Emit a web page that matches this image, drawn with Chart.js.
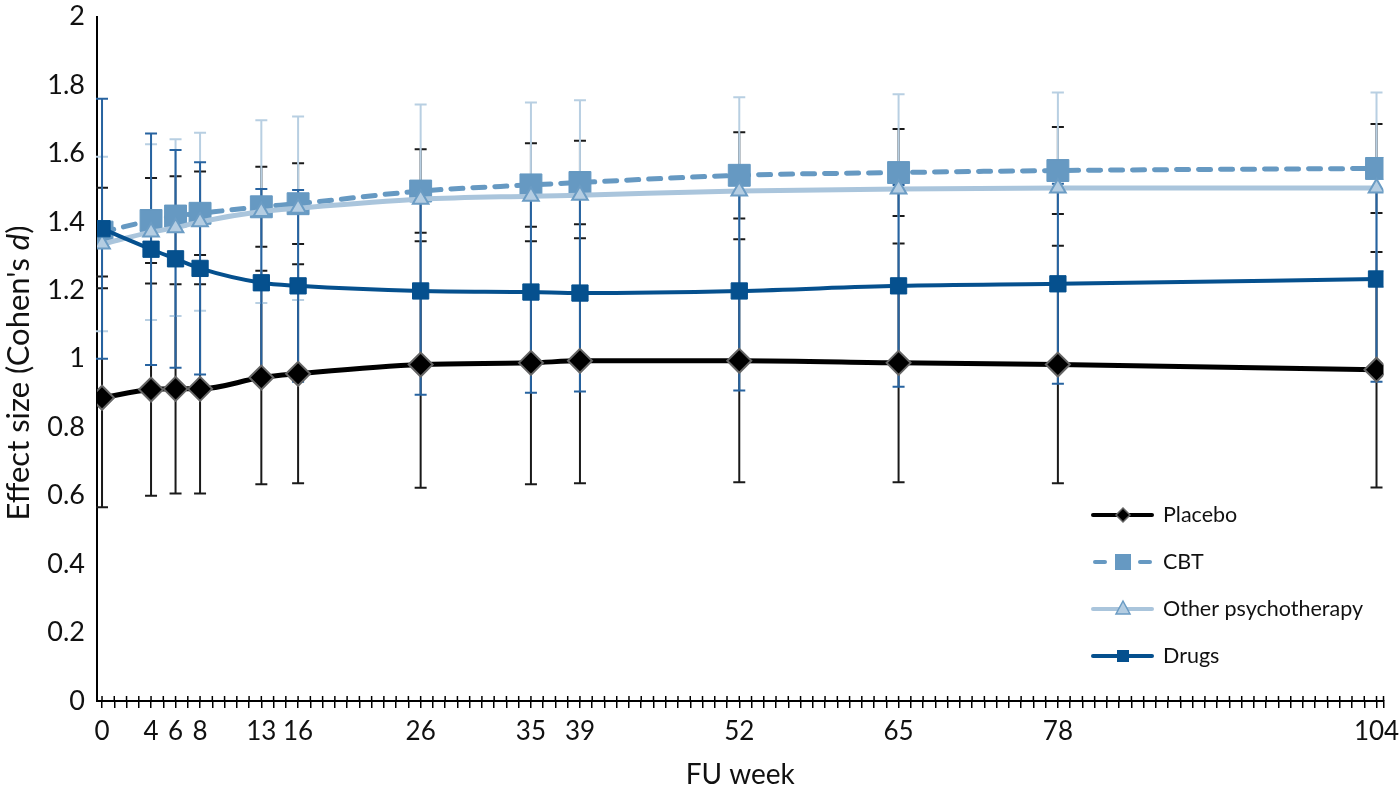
<!DOCTYPE html>
<html>
<head>
<meta charset="utf-8">
<script src="https://cdn.jsdelivr.net/npm/chart.js@4.4.1/dist/chart.umd.min.js"></script>
<style>
html, body { margin: 0; padding: 0; background: #fff; }
#wrap { width: 1400px; height: 795px; position: relative; }
</style>
</head>
<body>
<div id="wrap"><canvas id="myChart"></canvas></div>
<script>
// follow-up weeks and labelled ticks
var weeks = [0, 4, 6, 8, 13, 16, 26, 35, 39, 52, 65, 78, 104];
var tickLabels = [0, 4, 6, 8, 13, 16, 26, 35, 39, 52, 65, 78, 104];

// effect sizes and error bar half-widths
var placebo    = [0.886, 0.91, 0.912, 0.912, 0.945, 0.956, 0.983, 0.988, 0.994, 0.994, 0.988, 0.983, 0.968];
var placeboErr = [0.32, 0.31, 0.306, 0.306, 0.312, 0.32, 0.36, 0.355, 0.358, 0.355, 0.349, 0.347, 0.344];
var cbt        = [1.37, 1.404, 1.417, 1.425, 1.444, 1.453, 1.49, 1.508, 1.515, 1.536, 1.544, 1.55, 1.556];
var cbtErr     = [0.13, 0.124, 0.116, 0.122, 0.117, 0.118, 0.122, 0.122, 0.122, 0.126, 0.127, 0.127, 0.13];
var other      = [1.335, 1.37, 1.383, 1.40, 1.43, 1.44, 1.466, 1.475, 1.478, 1.49, 1.496, 1.499, 1.499];
var otherErr   = [0.255, 0.257, 0.258, 0.26, 0.267, 0.268, 0.277, 0.274, 0.277, 0.274, 0.277, 0.279, 0.279];
var drugs      = [1.38, 1.32, 1.292, 1.264, 1.222, 1.213, 1.198, 1.195, 1.192, 1.198, 1.213, 1.219, 1.233];
var drugsErr   = [0.38, 0.338, 0.318, 0.31, 0.274, 0.28, 0.303, 0.294, 0.288, 0.291, 0.295, 0.292, 0.30];

var FONT = "Lato, 'Open Sans', sans-serif";
var X_MIN = -0.41, X_MAX = 104.57;
var allWeeks = [];
for (var w = 0; w <= 104; w++) allWeeks.push(w);

function pts(vals) {
    return weeks.map(function (wk, i) { return { x: wk, y: vals[i] }; });
}

var errorSets = [
    { mean: placebo, err: placeboErr, color: "#1a1a1a" },
    { mean: cbt, err: cbtErr, color: "#1a1a1a" },
    { mean: other, err: otherErr, color: "#b8cfe2" },
    { mean: drugs, err: drugsErr, color: "#2763a0" }
];

var errorBars = {
    id: "errorBars",
    beforeDatasetsDraw: function (chart) {
        var ctx = chart.ctx, xs = chart.scales.x, ys = chart.scales.y;
        ctx.save();
        ctx.lineWidth = 2;
        errorSets.forEach(function (s) {
            ctx.strokeStyle = s.color;
            weeks.forEach(function (wk, i) {
                var px = xs.getPixelForValue(wk);
                var top = ys.getPixelForValue(s.mean[i] + s.err[i]);
                var bot = ys.getPixelForValue(s.mean[i] - s.err[i]);
                ctx.beginPath();
                ctx.moveTo(px, top); ctx.lineTo(px, bot);
                ctx.moveTo(px - 6, top); ctx.lineTo(px + 6, top);
                ctx.moveTo(px - 6, bot); ctx.lineTo(px + 6, bot);
                ctx.stroke();
            });
        });
        ctx.restore();
    }
};

var extras = {
    id: "extras",
    afterDraw: function (chart) {
        var ctx = chart.ctx, xs = chart.scales.x, area = chart.chartArea;
        ctx.save();
        // upward half of the crossing week ticks
        ctx.strokeStyle = "#000";
        ctx.lineWidth = 1.5;
        allWeeks.concat([X_MAX]).forEach(function (wk) {
            var px = xs.getPixelForValue(wk);
            ctx.beginPath();
            ctx.moveTo(px, area.bottom);
            ctx.lineTo(px, area.bottom - 5);
            ctx.stroke();
        });

        // y title with italic d
        ctx.fillStyle = "#111";
        ctx.textBaseline = "middle";
        ctx.translate(19, 373);
        ctx.rotate(-Math.PI / 2);
        var f1 = "31px " + FONT, f2 = "italic 31px " + FONT;
        ctx.font = f1;
        var a = "Effect size (Cohen's ", c = ")";
        var wa = ctx.measureText(a).width, wc = ctx.measureText(c).width;
        ctx.font = f2;
        var wb = ctx.measureText("d").width;
        var x0 = -(wa + wb + wc) / 2;
        ctx.font = f1; ctx.fillText(a, x0, 0);
        ctx.font = f2; ctx.fillText("d", x0 + wa, 0);
        ctx.font = f1; ctx.fillText(c, x0 + wa + wb, 0);
        ctx.restore();

        // legend
        ctx.save();
        var lx0 = 1093, lx1 = 1152, mx = 1123, tx = 1163;
        ctx.lineCap = "round";
        ctx.font = "21.5px " + FONT;
        ctx.textBaseline = "middle";
        ctx.fillStyle = "#111";

        var y = 515;
        ctx.strokeStyle = "#000"; ctx.lineWidth = 4;
        ctx.beginPath(); ctx.moveTo(lx0, y); ctx.lineTo(lx1, y); ctx.stroke();
        ctx.beginPath(); ctx.moveTo(mx - 7, y); ctx.lineTo(mx, y - 7); ctx.lineTo(mx + 7, y); ctx.lineTo(mx, y + 7); ctx.closePath();
        ctx.fillStyle = "#000"; ctx.fill(); ctx.strokeStyle = "#666"; ctx.lineWidth = 1.5; ctx.stroke();
        ctx.fillStyle = "#111"; ctx.fillText("Placebo", tx, y);

        y = 562;
        ctx.strokeStyle = "#6699c2"; ctx.lineWidth = 4;
        ctx.beginPath(); ctx.moveTo(lx0 + 2, y); ctx.lineTo(lx0 + 12, y); ctx.stroke();
        ctx.beginPath(); ctx.moveTo(lx1 - 12, y); ctx.lineTo(lx1 - 2, y); ctx.stroke();
        ctx.fillStyle = "#6699c2"; ctx.fillRect(mx - 8, y - 8, 16, 16);
        ctx.fillStyle = "#111"; ctx.fillText("CBT", tx, y);

        y = 609;
        ctx.strokeStyle = "#aac5dc"; ctx.lineWidth = 4;
        ctx.beginPath(); ctx.moveTo(lx0, y); ctx.lineTo(lx1, y); ctx.stroke();
        ctx.beginPath(); ctx.moveTo(mx, y - 8); ctx.lineTo(mx + 7, y + 5); ctx.lineTo(mx - 7, y + 5); ctx.closePath();
        ctx.fillStyle = "#b4cde2"; ctx.fill(); ctx.strokeStyle = "#6b9cc4"; ctx.lineWidth = 1.5; ctx.stroke();
        ctx.fillStyle = "#111"; ctx.fillText("Other psychotherapy", tx, y);

        y = 656;
        ctx.strokeStyle = "#05508e"; ctx.lineWidth = 4;
        ctx.beginPath(); ctx.moveTo(lx0, y); ctx.lineTo(lx1, y); ctx.stroke();
        ctx.fillStyle = "#05508e"; ctx.fillRect(mx - 6, y - 6, 12, 12);
        ctx.fillStyle = "#111"; ctx.fillText("Drugs", tx, y);
        ctx.restore();
    }
};

new Chart("myChart", {
    type: "line",
    data: {
        datasets: [{
            label: "Drugs",
            data: pts(drugs),
            borderColor: "#05508e",
            borderWidth: 4,
            pointStyle: "rect",
            pointRadius: 11.5,
            pointBackgroundColor: "#05508e",
            pointBorderColor: "#05508e",
            pointBorderWidth: 1,
            cubicInterpolationMode: "monotone",
            order: 0
        }, {
            label: "Other psychotherapy",
            data: pts(other),
            borderColor: "#aac5dc",
            borderWidth: 5,
            pointStyle: "triangle",
            pointRadius: 9,
            pointBackgroundColor: "#b4cde2",
            pointBorderColor: "#6b9cc4",
            pointBorderWidth: 2,
            cubicInterpolationMode: "monotone",
            order: 1
        }, {
            label: "CBT",
            data: pts(cbt),
            borderColor: "#6699c2",
            borderWidth: 5,
            borderDash: [12, 10],
            borderCapStyle: "round",
            pointStyle: "rect",
            pointRadius: 15.5,
            pointBackgroundColor: "#6699c2",
            pointBorderColor: "#6699c2",
            pointBorderWidth: 1,
            cubicInterpolationMode: "monotone",
            order: 2
        }, {
            label: "Placebo",
            data: pts(placebo),
            borderColor: "#000",
            borderWidth: 5,
            pointStyle: "rectRot",
            pointRadius: 12,
            pointBackgroundColor: "#000",
            pointBorderColor: "#666",
            pointBorderWidth: 2,
            cubicInterpolationMode: "monotone",
            order: 3
        }]
    },
    options: {
        responsive: true,
        maintainAspectRatio: false,
        animation: false,
        layout: { padding: { top: 15, right: 15, left: 0, bottom: 0 } },
        plugins: {
            legend: { display: false },
            tooltip: { enabled: false }
        },
        scales: {
            x: {
                type: "linear",
                min: X_MIN,
                max: X_MAX,
                afterBuildTicks: function (scale) {
                    scale.ticks = allWeeks.concat([X_MAX]).map(function (v) { return { value: v }; });
                },
                afterFit: function (scale) {
                    scale.height = 94;
                    scale.paddingLeft = 0;
                    scale.paddingRight = 0;
                },
                ticks: {
                    autoSkip: false,
                    maxRotation: 0,
                    padding: 8,
                    color: "#111",
                    font: { family: FONT, size: 26 },
                    callback: function (v) { return tickLabels.indexOf(v) >= 0 ? String(v) : ""; }
                },
                grid: { drawOnChartArea: false, drawTicks: true, tickLength: 7, color: "#000", lineWidth: 1.5 },
                border: { display: true, color: "#000", width: 2 },
                title: {
                    display: true,
                    text: "FU week",
                    color: "#111",
                    font: { family: FONT, size: 28 },
                    padding: { top: 6, bottom: 3 }
                }
            },
            y: {
                min: 0,
                max: 2,
                afterFit: function (scale) {
                    scale.width = 97;
                    scale.paddingTop = 0;
                    scale.paddingBottom = 0;
                },
                ticks: {
                    stepSize: 0.2,
                    padding: 12,
                    color: "#111",
                    font: { family: FONT, size: 27 },
                    callback: function (v) { return String(Number(v.toFixed(1))); }
                },
                grid: { display: false, drawTicks: false },
                border: { display: true, color: "#000", width: 2 }
            }
        }
    },
    plugins: [errorBars, extras]
});
</script>
</body>
</html>
